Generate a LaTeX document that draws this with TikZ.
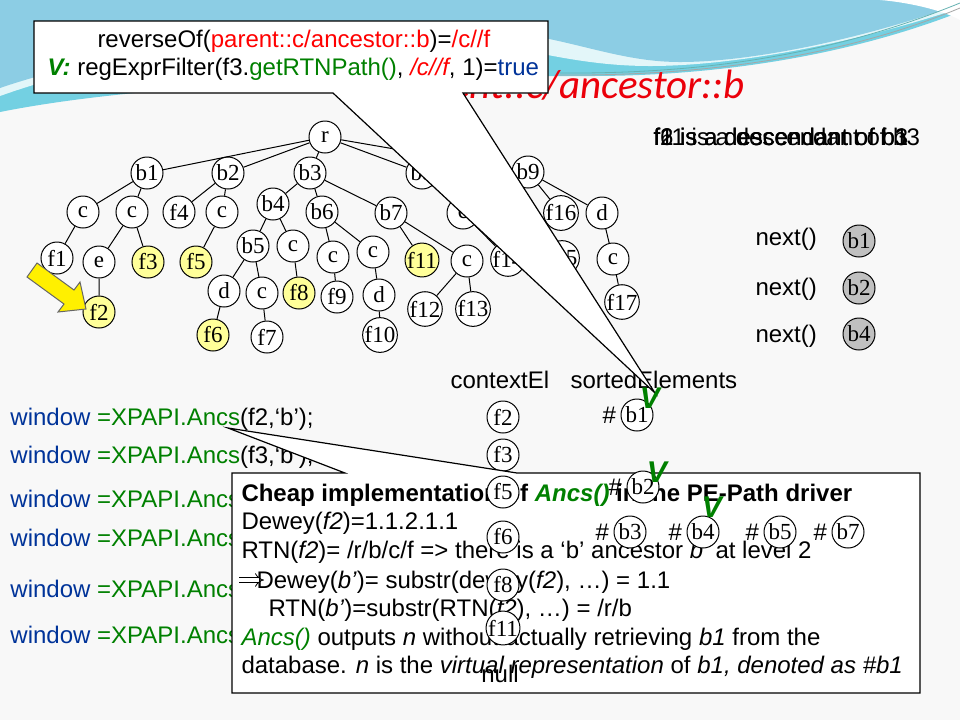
\documentclass[tikz,border=0pt]{standalone}
\usepackage{fontspec}
\setmainfont{Liberation Sans}
\newfontfamily\timesfont{Liberation Serif}
\newfontfamily\titlefont{Carlito}
\usetikzlibrary{positioning, arrows.meta}

\definecolor{slidebg}{RGB}{248,248,248}
\definecolor{wavetop}{RGB}{140,205,228}
\definecolor{waveband}{RGB}{115,208,226}
\definecolor{titlered}{RGB}{235,0,10}
\definecolor{codered}{RGB}{255,0,0}
\definecolor{codegreen}{RGB}{0,128,0}
\definecolor{codeblue}{RGB}{0,51,153}
\definecolor{hityellow}{RGB}{255,255,153}
\definecolor{gotgrey}{RGB}{192,192,192}
\definecolor{arrowyellow}{RGB}{255,240,0}

\tikzset{
  tn/.style={draw, circle, fill=white, minimum size=16pt, inner sep=0pt, font=\timesfont\fontsize{11.5}{12}\selectfont},
  hit/.style={tn, fill=hityellow},
  got/.style={tn, fill=gotgrey},
  lbl/.style={inner sep=0pt, anchor=base west, font=\fontsize{12}{14}\selectfont},
  vmark/.style={inner sep=0pt, text=codegreen, font=\bfseries\itshape\fontsize{15}{16}\selectfont},
  callout/.style={draw, fill=white, line width=0.6pt}
}

\begin{document}
\begin{tikzpicture}[x=0.5pt, y=-0.5pt, line width=0.5pt]
	\useasboundingbox (0,0) rectangle (960,720);
	% slide background
	\fill[slidebg] (0,0) rectangle (960,720);
	\fill[waveband] (0,0) -- (960,0) -- (960,12) .. controls (850,55) and (720,76) .. (590,76) .. controls (420,76) and (160,80) .. (0,112) -- cycle;
	\fill[white!80!waveband] (0,0) -- (960,0) -- (960,8) .. controls (850,45) and (730,66) .. (650,66) .. controls (560,66) and (500,38) .. (420,36) .. controls (260,32) and (100,60) .. (0,96) -- cycle;
	\fill[wavetop] (0,0) -- (960,0) -- (960,4) .. controls (860,40) and (750,62) .. (680,62) .. controls (610,62) and (560,32) .. (470,29) .. controls (300,24) and (110,50) .. (0,88) -- cycle;
	\fill[white] (880,0) -- (960,0) -- (960,20) .. controls (940,9) and (905,2) .. (880,0) -- cycle;
	\draw[teal!60, line width=0.4pt] (960,3) .. controls (830,56) and (700,74) .. (560,73);
	\draw[gray!70, line width=0.4pt] (960,8) .. controls (840,58) and (700,76) .. (560,75);

	% title, mostly hidden by the callout
	\node[anchor=base east, inner sep=0pt, text=titlered, font=\titlefont\itshape\fontsize{20.5}{24}\selectfont] (title) at (745,98) {parent::c/ancestor::b};

	% document tree
	\node[tn] (r) at (325,137) {r};
	\node[tn] (b1) at (147,173) {b1};
	\node[tn] (b2) at (228,173) {b2};
	\node[tn] (b3) at (310,173) {b3};
	\node[tn] (b8) at (422,173) {b8};
	\node[tn] (b9) at (528,172) {b9};
	\node[tn] (c1) at (83,212) {c};
	\node[tn] (c2) at (132,212) {c};
	\node[tn] (f4) at (179,212) {f4};
	\node[tn] (c3) at (222,212) {c};
	\node[tn] (b4) at (273,204) {b4};
	\node[tn] (b6) at (322,212) {b6};
	\node[tn] (b7) at (391,213) {b7};
	\node[tn] (c4) at (463,213) {c};
	\node[tn] (f16) at (561,213) {f16};
	\node[tn] (d3) at (602,213) {d};
	\node[tn] (f1) at (57,258) {f1};
	\node[tn] (e) at (99,262) {e};
	\node[hit] (f3) at (148,262) {f3};
	\node[hit] (f5) at (196,262) {f5};
	\node[tn] (b5) at (253,246) {b5};
	\node[tn] (c5) at (293,246) {c};
	\node[tn] (c6) at (333,257) {c};
	\node[tn] (c7) at (373,252) {c};
	\node[hit] (f11) at (422,260) {f11};
	\node[tn] (c8) at (467,261) {c};
	\node[tn] (f14) at (508,259) {f14};
	\node[tn] (f15) at (562,258) {f15};
	\node[tn] (c9) at (613,259) {c};
	\node[tn] (d1) at (224,291) {d};
	\node[tn] (c10) at (262,293) {c};
	\node[hit] (f8) at (299,293) {f8};
	\node[tn] (f9) at (337,297) {f9};
	\node[tn] (d2) at (379,295) {d};
	\node[tn] (f17) at (622,302) {f17};
	\node[hit] (f2) at (99,312) {f2};
	\node[hit] (f6) at (213,335) {f6};
	\node[tn] (f7) at (267,337) {f7};
	\node[tn] (f10) at (380,335) {f10};
	\node[tn] (f12) at (425,309) {f12};
	\node[tn] (f13) at (473,309) {f13};
	\draw (r) -- (b1) (r) -- (b2) (r) -- (b3) (r) -- (b8) (r) -- (b9);
	\draw (b1) -- (c1) (b1) -- (c2) (c1) -- (f1) (c2) -- (e) (c2) -- (f3) (e) -- (f2);
	\draw (b2) -- (f4) (b2) -- (c3) (c3) -- (f5);
	\draw (b3) -- (b4) (b3) -- (b6) (b3) -- (b7);
	\draw (b4) -- (b5) (b4) -- (c5) (b5) -- (d1) (b5) -- (c10) (d1) -- (f6) (c10) -- (f7) (c5) -- (f8);
	\draw (b6) -- (c6) (b6) -- (c7) (c6) -- (f9) (c7) -- (d2) (d2) -- (f10);
	\draw (b7) -- (f11) (b7) -- (c8) (c8) -- (f12) (c8) -- (f13);
	\draw (b8) -- (c4) (c4) -- (f14) (c4) -- (f15);
	\draw (b9) -- (f16) (b9) -- (d3) (d3) -- (c9) (c9) -- (f17);

	% arrow on f2
	\draw[fill=arrowyellow, draw=black!60] (37,263) -- (74,290) -- (80,282) -- (86,309) -- (58,312) -- (64,304) -- (27,277) -- cycle;

	% found b nodes
	\node[lbl] (dsc1) at (653,145) {f2 is a descendant of b1};
	\node[lbl] (dsc2) at (653,145) {f6 is a descendant of b3};
	\node[lbl] (dsc3) at (653,145) {f11 is a descendant of b3};
	\node[lbl] (nx1) at (755,245) {next()};
	\node[lbl] (nx2) at (755,295) {next()};
	\node[lbl] (nx3) at (755,342) {next()};
	\node[got] (g1) at (859,241) {b1};
	\node[got] (g2) at (859,288) {b2};
	\node[got] (g4) at (859,334) {b4};

	% calls
	\node[lbl] (w1) at (10,425) {\textcolor{codeblue}{window} \textcolor{codegreen}{=XPAPI.Ancs}(f2,‘b’);};
	\node[lbl] (w2) at (10,463) {\textcolor{codeblue}{window} \textcolor{codegreen}{=XPAPI.Ancs}(f3,‘b’);};
	\node[lbl] (w3) at (10,507) {\textcolor{codeblue}{window} \textcolor{codegreen}{=XPAPI.Ancs}(f5,‘b’);};
	\node[lbl] (w4) at (10,546) {\textcolor{codeblue}{window} \textcolor{codegreen}{=XPAPI.Ancs}(f6,‘b’);};
	\node[lbl] (w5) at (10,597) {\textcolor{codeblue}{window} \textcolor{codegreen}{=XPAPI.Ancs}(f8,‘b’);};
	\node[lbl] (w6) at (10,643) {\textcolor{codeblue}{window} \textcolor{codegreen}{=XPAPI.Ancs}(f11,‘b’);};

	\node[lbl] (ctx) at (450,388) {contextEl};
	\node[lbl] (srt) at (570,388) {sortedElements};
	\node[tn] (x2) at (503,417) {f2};
	\node[tn] (x3) at (503,455) {f3};
	\node[tn] (s1) at (637,415) {b1};
	\node[lbl, anchor=east, left=2pt of s1] (h1) {\#};

	% callout on the tree
	\coordinate (tipA) at (655,393);
	\draw[callout] (34,21) -- (548,21) -- (548,93) -- (463,93) -- (tipA) -- (333,93) -- (34,93) -- cycle;
	\node[lbl] (rev) at (97,47) {reverseOf(\textcolor{codered}{parent::c/ancestor::b})=\textcolor{codered}{/c//f}};
	\node[lbl] (flt) at (47,75) {\textcolor{codegreen}{\bfseries\itshape V:} regExprFilter(f3.\textcolor{codegreen}{getRTNPath()}, \textcolor{codered}{\itshape /c//f}, 1)=\textcolor{codeblue}{true}};

	% callout on Ancs()
	\coordinate (tipB) at (228,428);
	\draw[callout] (232,473) -- (345,473) -- (tipB) -- (517,473) -- (920,473) -- (920,693) -- (232,693) -- cycle;
	\node[lbl] (cheap) at (241,501) {\bfseries Cheap implementation of \textcolor{codegreen}{\itshape Ancs()} in the PE-Path driver};
	\node[lbl] (dw1) at (241,529) {Dewey(\textit{f2})=1.1.2.1.1};
	\node[lbl] (rtn1) at (241,558) {RTN(\textit{f2})= /r/b/c/f => there is a ‘b’ ancestor \textit{b’} at level 2};
	\node[lbl] (dw2) at (256,588) {Dewey(\textit{b’})= substr(dewey(\textit{f2}), …) = 1.1};
	\node[lbl] (rtn2) at (268,616) {RTN(\textit{b’})=substr(RTN(\textit{f2}), …) = /r/b};
	\node[lbl] (anc) at (241,645) {\textcolor{codegreen}{\itshape Ancs()} outputs \textit{n} without actually retrieving \textit{b1} from the};
	\node[lbl] (db) at (241,673) {database. \textit{n} is the \textit{virtual representation} of \textit{b1, denoted as \#b1}};
	\coordinate (impA) at (239,580);
	\coordinate (impB) at (264,580);
	\draw[double, double distance=2pt, line width=0.4pt, -{Implies}] (impA) -- (impB);

	% context elements and sorted elements
	\node[tn] (x5) at (503,492) {f5};
	\node[tn] (x6) at (503,537) {f6};
	\node[tn] (x8) at (503,585) {f8};
	\node[tn] (x11) at (503,628) {f11};
	\node[lbl, anchor=base] (nul) at (500,682) {null};
	\node[tn] (s2) at (643,487) {b2};
	\node[tn] (s3) at (630,532) {b3};
	\node[tn] (s4) at (703,532) {b4};
	\node[tn] (s5) at (780,532) {b5};
	\node[tn] (s7) at (848,532) {b7};
	\node[lbl, anchor=east, left=2pt of s2] (h2) {\#};
	\node[lbl, anchor=east, left=2pt of s3] (h3) {\#};
	\node[lbl, anchor=east, left=2pt of s4] (h4) {\#};
	\node[lbl, anchor=east, left=2pt of s5] (h5) {\#};
	\node[lbl, anchor=east, left=2pt of s7] (h7) {\#};
	\node[vmark] (v1) at (650,398) {V};
	\node[vmark] (v2) at (657,472) {V};
	\node[vmark] (v4) at (712,507) {V};
\end{tikzpicture}
\end{document}
